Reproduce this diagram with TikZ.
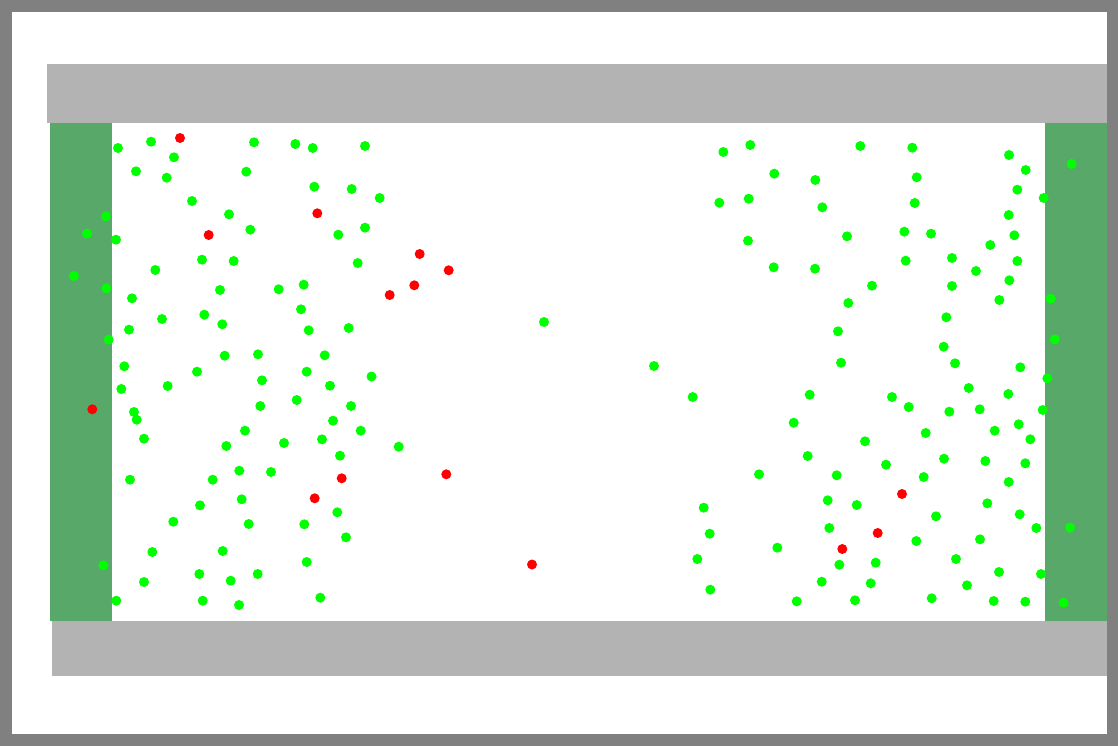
\documentclass[tikz,border=0pt]{standalone}
\definecolor{frame}{RGB}{128,128,128}
\definecolor{bar}{RGB}{179,179,179}
\definecolor{wall}{RGB}{87,168,105}
\definecolor{gdot}{RGB}{0,255,0}
\definecolor{rdot}{RGB}{255,0,0}
\tikzset{
  greendot/.style={fill=gdot},
  reddot/.style={fill=rdot},
}
\begin{document}
\begin{tikzpicture}[x=1pt,y=-1pt]
\useasboundingbox (0,0) rectangle (1118,746);
\fill[frame] (0,0) rectangle (1118,746);
\fill[white] (12,12) rectangle (1107,734);
% bars
\fill[bar] (47,64) rectangle (1107,123.5);
\fill[bar] (52,621) rectangle (1107,676);
% walls
\fill[wall] (49.5,123.5) rectangle (111.7,620.8);
\fill[wall] (1045.3,123.5) rectangle (1107,621.3);
% green dots
\foreach \x/\y in {
118/148, 151/141.7, 254/142.3, 174/157.3, 136/171.3, 166.7/177.7, 246.3/171.7,
192/201, 229/214.3, 106/216.3, 87/233.7, 250.3/229.7, 116/239.7, 202/259.7,
233.7/261, 74/276, 155.3/270, 106.3/288.3, 220/290, 132/298.3, 162/319,
204.3/314.7, 222.3/324.3, 129/329.7, 108.7/339.7, 224.7/355.7, 258/354.3,
124.3/366.3, 197/371.7,
295.3/144, 312.7/148, 365/146, 314.3/186.7, 351.7/189, 379.7/198, 365/227.7,
338.3/234.7, 357.7/263, 303.7/284.7, 278.7/289.3, 301/309.3, 308.7/330.3,
348.7/328, 324.7/355.3, 306.7/371.7, 371.5/376.5,
121.3/389, 167.7/386, 134/412, 136.7/419.7, 245/430.7, 144/438.7, 226.3/446,
239.3/470.7, 212.7/479.7, 130/479.7, 200/505.3, 241.7/499.3, 173.3/521.7,
248.7/524, 152.3/552, 222.7/551, 103.3/565.3, 144/582, 199.3/574, 230.7/580.7,
257.7/574, 116.3/600.7, 202.7/600.7, 239/605,
262/380.3, 330/385.7, 260.3/406, 296.7/400, 351/406, 333/420.7, 360.7/430.7,
284/443, 322/439.3, 398.7/446.7, 340/455.7, 271/472, 337.3/512.3, 304.3/524.3,
346/537.3, 306.7/562, 320.3/597.7,
544/322, 654/366,
723.3/152, 750.3/145, 860.3/146, 774.3/173.7, 815.3/180, 719.3/202.7,
748.7/198.7, 822.3/207.3, 748/240.7, 847/236.3, 773.7/267.3, 815/268.7,
872/285.7, 848.3/303, 838/331.3, 841/362.7,
912.3/147.7, 1009/155, 1025.7/170, 1071.7/164, 916.7/177.3, 1017.3/189.7,
1043.7/198, 914.7/203, 1008.7/215, 904.3/231.7, 931/233.7, 1014.3/235.3,
990.3/245, 905.7/260.7, 952/258, 1017.3/261, 976/271, 1009.3/280.3, 952/286,
999.3/300, 1050.7/298.7, 946.3/317.3, 1054.7/339.3, 943.7/346.7, 955/363.3,
1020.3/367.3,
692.7/397, 809.7/394.7, 793.7/422.7, 865/441.3, 807.7/456, 759/474.3,
836.7/475.3, 703.7/507.7, 827.7/500.3, 856.7/505, 709.7/533.7, 829.3/528,
777.3/547.7, 697.3/559, 839.3/564.7, 875.7/562.7, 710.3/589.7, 821.7/581.7,
870.7/583.3, 796.7/601.3, 855/600.3,
1047.3/378.3, 968.7/388, 1008.3/394, 892/397, 908.7/407, 949.3/411.7,
979.7/409.3, 1042.7/410, 1018.7/424.3, 994.7/430.7, 925.7/433, 1030.3/439.3,
886/464.7, 944/458.7, 985.3/461, 1025.3/463.3, 923.7/477, 1008.7/482,
987.3/503.3, 936/516.3, 1019.7/514.3, 1036.3/528, 1070/527.7, 916.3/541,
980/539.3, 956/559, 999/572, 1041/574, 967/585.3, 931.7/598.3, 993.7/601,
1025.3/601.7, 1063.7/602.7}
  \fill[greendot] (\x,\y) circle[radius=5];
% red dots
\foreach \x/\y in {
180/138, 208.7/235, 317.3/213.3, 419.7/254, 448.7/270.3, 414.3/285.3,
389.7/295, 92.3/409.3, 341.7/478.3, 446.3/474.3, 314.7/498.3, 532/564.5,
902/494, 877.7/533, 842.3/549}
  \fill[reddot] (\x,\y) circle[radius=5];
\end{tikzpicture}
\end{document}
